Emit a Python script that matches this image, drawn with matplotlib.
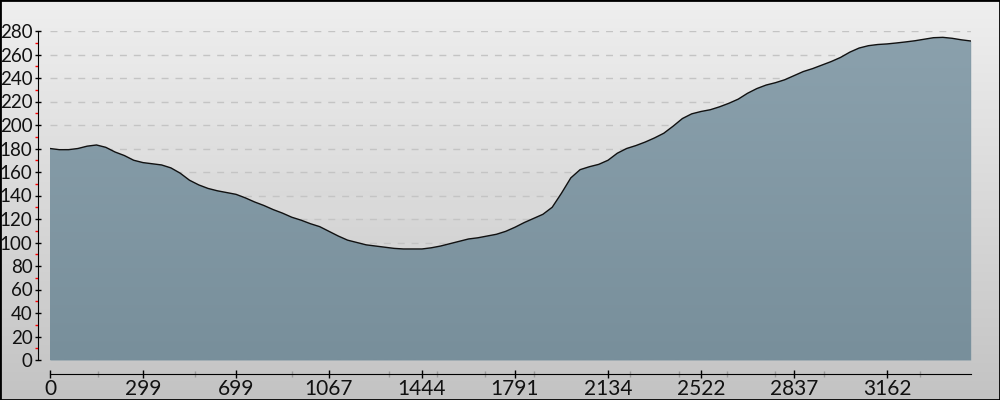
import numpy as np
import matplotlib
matplotlib.use("Agg")
import matplotlib.pyplot as plt
from matplotlib.colors import LinearSegmentedColormap
from matplotlib.patches import Rectangle

# elevation profile, one value per sample point
elevation = [
    180, 179, 179, 180, 182, 183, 181, 177, 174, 170,
    168, 167, 166, 163.5, 159, 153, 149, 146, 144, 142.5,
    141, 138, 134.5, 131.5, 128, 125, 121.5, 119, 116, 113.5,
    109.5, 105.5, 102, 100, 98, 97, 96, 95, 94.5, 94.5,
    94.5, 95.5, 97, 99, 101, 103, 104, 105.5, 107, 109.5,
    113, 117, 120.5, 124, 130, 142, 155, 162, 164.5, 166.5,
    170, 176, 180, 182.5, 185.5, 189, 193, 199, 205.5, 209.5,
    211.5, 213, 215.5, 218.5, 222, 227, 231, 234, 236, 238.5,
    242, 245.5, 248, 251, 254, 257.5, 262, 265.5, 267.5, 268.5,
    269, 269.8, 270.7, 271.7, 273, 274.3, 274.6, 273.8, 272.5, 271.5,
]
tick_index = [0, 10, 20, 30, 40, 50, 60, 70, 80, 90]
tick_labels = ["0", "299", "699", "1067", "1444", "1791", "2134", "2522", "2837", "3162"]
minor_index = [5.2, 15.6, 26.0, 36.4, 41.6, 46.8, 52.0, 62.4, 67.6, 72.8, 78.0, 83.2, 93.6]
y_major = list(range(0, 281, 20))
y_minor = list(range(10, 280, 20))

plt.rcParams["font.family"] = ["Lato", "DejaVu Sans"]

idx = np.arange(len(elevation))

fig = plt.figure(figsize=(10, 4), dpi=100)

# background gradient + frame
bg = fig.add_axes([0, 0, 1, 1], zorder=0)
bg_cmap = LinearSegmentedColormap.from_list("bg", ["#efefef", "#c3c3c3"])
bg.imshow(np.linspace(0, 1, 256).reshape(-1, 1), aspect="auto", cmap=bg_cmap,
          extent=[0, 1, 0, 1], origin="upper")
bg.add_patch(Rectangle((0, 0), 1, 1, fill=False, edgecolor="black", lw=2,
                       transform=bg.transAxes, clip_on=False))
bg.set_axis_off()

ax = fig.add_axes([0.05, 0.1, 0.9207, 0.8225], zorder=1)
ax.patch.set_alpha(0)

for k, y0 in enumerate(range(0, 280, 20)):
    if k % 2 == 0:
        ax.axhspan(y0, y0 + 20, color="white", alpha=0.05, lw=0, zorder=0)

ax.yaxis.grid(True, color="#c4c4c4", linestyle=(0, (5, 5)), lw=1)
ax.set_axisbelow(True)

poly = ax.fill_between(idx, elevation, 0, color="#7f96a2", lw=0, zorder=2)
fill_cmap = LinearSegmentedColormap.from_list("fill", ["#8ba1ad", "#788f9b"])
im = ax.imshow(np.linspace(0, 1, 256).reshape(-1, 1), aspect="auto", cmap=fill_cmap,
               extent=[0, len(elevation) - 1, 0, 280], origin="upper", zorder=2)
im.set_clip_path(poly.get_paths()[0], transform=ax.transData)
ax.plot(idx, elevation, color="#111111", lw=1.0, zorder=3)

ax.set_xlim(0, len(elevation) - 1)
ax.set_ylim(0, 280)

for s in ("top", "right"):
    ax.spines[s].set_visible(False)
ax.spines["left"].set_position(("outward", 9))
ax.spines["left"].set_bounds(0, 280)
ax.spines["bottom"].set_position(("outward", 10))

ax.set_yticks(y_major)
ax.set_yticks(y_minor, minor=True)
ax.tick_params(axis="y", which="major", direction="inout", length=5, width=1,
               color="black", labelsize=13.5, labelcolor="#111111", pad=1)
ax.tick_params(axis="y", which="minor", direction="out", length=2.5, width=1, color="red")

ax.set_xticks(tick_index, labels=tick_labels)
ax.set_xticks(minor_index, minor=True)
ax.tick_params(axis="x", which="major", direction="inout", length=6, width=1,
               color="black", labelsize=15, labelcolor="#111111", pad=1)
ax.tick_params(axis="x", which="minor", direction="inout", length=4, width=1, color="#9a9a9a")

fig.savefig("out.png", dpi=100)
